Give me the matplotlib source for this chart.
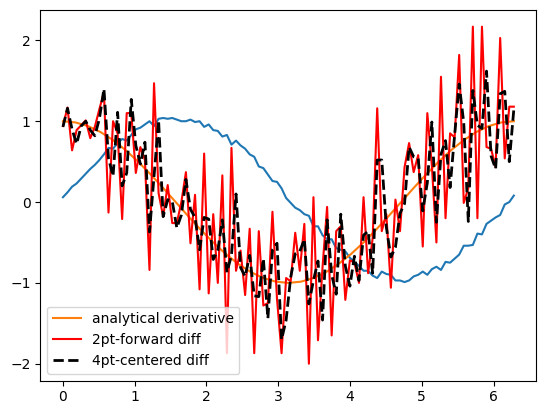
import numpy as np
import matplotlib
matplotlib.use("Agg")
import matplotlib.pyplot as plt

# sample grid (100 evenly spaced points over one period)
n_points = 100
x_start, x_end = 0.0, 2 * np.pi

# noisy signal
signal = [0.06, 0.12, 0.19, 0.23, 0.29, 0.35, 0.41, 0.46, 0.52, 0.59,
          0.67, 0.66, 0.73, 0.78, 0.76, 0.83, 0.90, 0.92, 0.96, 1.00,
          0.94, 1.03, 1.04, 1.03, 1.04, 1.02, 1.00, 1.00, 1.02, 0.99,
          1.00, 0.93, 0.96, 0.89, 0.88, 0.81, 0.83, 0.71, 0.76, 0.70,
          0.66, 0.59, 0.56, 0.44, 0.42, 0.34, 0.26, 0.25, 0.17, 0.05,
          -0.01, -0.07, -0.10, -0.15, -0.17, -0.30, -0.30, -0.41, -0.46, -0.46,
          -0.57, -0.59, -0.61, -0.69, -0.74, -0.79, -0.85, -0.85, -0.91, -0.94,
          -0.86, -0.89, -0.90, -0.97, -0.97, -0.99, -0.97, -0.92, -0.90, -0.86,
          -0.90, -0.83, -0.80, -0.84, -0.74, -0.75, -0.70, -0.65, -0.54, -0.54,
          -0.53, -0.39, -0.40, -0.27, -0.23, -0.19, -0.16, -0.03, 0.00, 0.08]

# analytical derivative, read at 37 evenly spaced points
analytical = [1.0, 0.985, 0.940, 0.866, 0.766, 0.643, 0.5, 0.342, 0.174, 0.0,
              -0.174, -0.342, -0.5, -0.643, -0.766, -0.866, -0.940, -0.985, -1.0,
              -0.985, -0.940, -0.866, -0.766, -0.643, -0.5, -0.342, -0.174, 0.0,
              0.174, 0.342, 0.5, 0.643, 0.766, 0.866, 0.940, 0.985, 1.0]

# 2pt-forward difference
fwd2 = [0.94, 1.17, 0.64, 0.89, 0.95, 1.01, 0.79, 0.93, 1.15, 1.36,
        -0.13, 1.00, 0.85, -0.21, 1.10, 1.10, 0.36, 0.68, 0.52, -0.84,
        1.47, 0.11, -0.18, 0.21, -0.26, -0.26, 0.00, 0.37, -0.51, 0.09,
        -1.08, 0.60, -1.13, -0.15, -1.00, 0.33, -1.87, 0.67, -0.85, -0.60,
        -1.15, -0.33, -1.87, -0.36, -1.28, -1.25, -0.12, -1.20, -1.87, -0.94,
        -0.98, -0.38, -0.85, -0.27, -2.00, 0.06, -1.71, -0.80, -0.06, -1.65,
        -0.36, -0.30, -1.21, -0.72, -0.75, -1.00, 0.06, -0.88, -0.45, 1.16,
        -0.36, -0.15, -1.06, 0.03, -0.36, 0.43, 0.73, 0.37, 0.58, -0.55,
        1.10, 0.45, -0.50, 1.55, -0.20, 0.85, 0.80, 1.82, -0.01, 0.17,
        2.17, -0.20, 2.17, 0.68, 0.66, 0.43, 2.03, 0.54, 1.18, 1.18]

# 4pt-centered difference
cen4 = [0.93, 1.16, 0.90, 0.72, 0.94, 1.00, 0.89, 0.82, 1.03, 1.40,
        0.54, 0.32, 1.11, 0.20, 0.36, 1.27, 0.70, 0.47, 0.74, -0.37,
        0.32, 1.01, -0.18, 0.03, 0.01, -0.32, -0.16, 0.28, -0.09, -0.19,
        -0.59, -0.19, -0.21, -0.71, -0.60, -0.22, -0.87, -0.66, 0.10, -0.81,
        -0.92, -0.66, -1.16, -1.17, -0.70, -1.44, -0.59, -0.51, -1.70, -1.46,
        -0.93, -0.64, -0.61, -0.46, -1.26, -0.97, -0.73, -1.46, -0.22, -0.90,
        -1.14, -0.15, -0.79, -1.04, -0.67, -0.97, -0.41, -0.36, -0.88, 0.52,
        0.52, -0.31, -0.68, -0.56, -0.14, -0.02, 0.68, 0.56, 0.54, -0.11,
        0.24, 0.99, -0.25, 0.59, 0.76, 0.18, 0.83, 1.46, 0.98, -0.24,
        1.38, 0.95, 0.91, 1.62, 0.57, 0.41, 1.34, 1.37, 0.50, 1.15]

labels = ["analytical derivative", "2pt-forward diff", "4pt-centered diff"]

x = np.linspace(x_start, x_end, n_points)
x_ana = np.linspace(x_start, x_end, len(analytical))

fig = plt.figure(figsize=(5.46, 4.13), dpi=100)
ax = fig.add_axes([0.074, 0.0785, 0.9084, 0.8978])

ax.plot(x, signal, color="C0")
ax.plot(x_ana, analytical, color="C1", label=labels[0])
ax.plot(x, fwd2, color="red", label=labels[1])
ax.plot(x, cen4, color="black", linestyle="--", linewidth=2, label=labels[2])

ax.legend(loc="lower left")
fig.savefig("out.png", dpi=100)
